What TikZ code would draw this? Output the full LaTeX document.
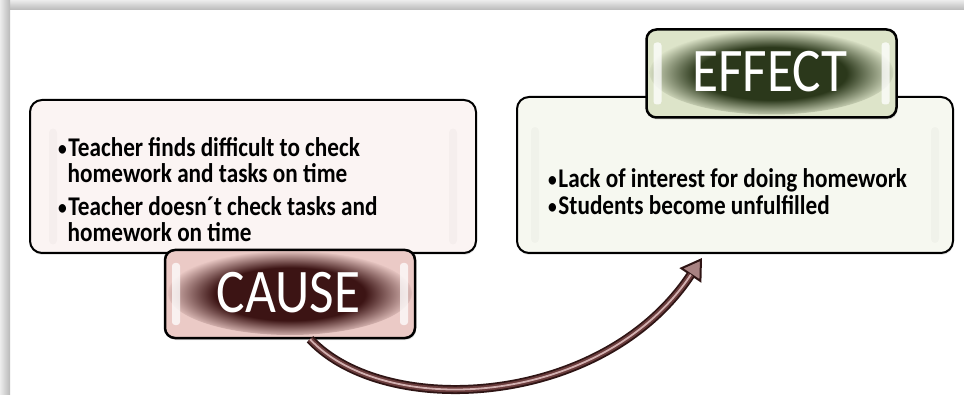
\documentclass[tikz,border=0pt]{standalone}
\usepackage{fontspec}
\setmainfont{Carlito}
\usetikzlibrary{arrows.meta,shadows}

\definecolor{causelight}{HTML}{EBCAC6}
\definecolor{causedark}{HTML}{3C1414}
\definecolor{efflight}{HTML}{DDE4C9}
\definecolor{effdark}{HTML}{2B381B}
\definecolor{causefill}{HTML}{FBF4F3}
\definecolor{efffill}{HTML}{F6F8F0}
\definecolor{arrowdark}{HTML}{2E1414}
\definecolor{arrowmid}{HTML}{6A3C3C}
\definecolor{arrowpink}{HTML}{D2B0B0}

% dark halo behind the big words, fading out towards the tag border
\pgfdeclareradialshading{causeglow}{\pgfpoint{0bp}{0bp}}{color(0bp)=(causedark); color(15bp)=(causedark); color(25bp)=(causelight); color(50bp)=(causelight)}
\pgfdeclareradialshading{effglow}{\pgfpoint{0bp}{0bp}}{color(0bp)=(effdark); color(15bp)=(effdark); color(25bp)=(efflight); color(50bp)=(efflight)}

\newcommand{\bul}{\makebox[12pt][l]{\raisebox{1pt}{\scalebox{0.75}{\textbullet}}}}
\newcommand{\ind}{\hspace*{11pt}}

\tikzset{
    panel/.style={draw=black, line width=2pt, rounded corners=12pt, inner sep=0pt,
        drop shadow={opacity=0.2, shadow xshift=0.5pt, shadow yshift=-2pt},
        path picture={
            \foreach \s in {1,-1} {
                \fill[black, opacity=0.025, rounded corners=4pt]
                    ([xshift=\s*(-200pt),yshift=-10pt]path picture bounding box.center) ++(-4pt,-58pt) rectangle ++(8pt,116pt);
            }
        }},
    tagbox/.style={draw=black, line width=2.5pt, rounded corners=10pt, inner sep=0pt,
        minimum width=250pt, minimum height=88pt,
        drop shadow={opacity=0.25, shadow xshift=1pt, shadow yshift=-2pt},
        path picture={
            \shade[shading=#1] ([yshift=1pt]path picture bounding box.center) ellipse (122pt and 42pt);
            \foreach \a/\s in {west/1, east/-1} {
                \fill[white, opacity=0.75, rounded corners=3pt]
                    ([xshift=\s*7pt,yshift=13pt]path picture bounding box.south \a) rectangle ++(\s*8pt,62pt);
            }
        }},
    bullets/.style={font=\bfseries\fontsize{27}{26.5}\selectfont, align=left, inner sep=0pt, xscale=0.86},
    tagword/.style={font=\fontsize{62}{62}\selectfont, text=white, inner sep=0pt, xscale=0.86},
}

\begin{document}
\begin{tikzpicture}[x=1pt,y=1pt]

    \useasboundingbox (0,0) rectangle (964,394);
    \fill[white] (0,0) rectangle (964,394);

    % grey rim along the top and the left
    \shade[top color=gray!15, bottom color=gray!55] (0,384) rectangle (964,394);
    \shade[left color=gray!15, right color=gray!55] (0,0) rectangle (10,394);

    % the two text panels
    \node[panel, fill=causefill, minimum width=446pt, minimum height=153pt] (causebox) at (253,217.5) {};
    \node[panel, fill=efffill, minimum width=436pt, minimum height=156pt] (effbox) at (735,219) {};

    \node[bullets, anchor=north west] (causetext) at (58,257) {%
        \bul Teacher finds difficult to check\\
        \ind homework and tasks on time\\[6pt]
        \bul Teacher doesn´t check tasks and\\
        \ind homework on time};

    \node[bullets, anchor=north west] (efftext) at (548,226) {%
        \bul Lack of interest for doing homework\\[0.5pt]
        \bul Students become unfulfilled};

    % the tags on the panels
    \node[tagbox=causeglow, fill=causelight] (causetag) at (290,100) {};
    \node[tagword, anchor=base] (causeword) at (288.5,82) {CAUSE};

    \node[tagbox=effglow, fill=efflight] (efftag) at (771.5,320.5) {};
    \node[tagword, anchor=base] (effword) at (770,302) {EFFECT};

    % curved arrow from cause to effect
    \coordinate (arrowstart) at ([xshift=20pt]causetag.south);
    \coordinate (arrowend) at ([xshift=-33pt,yshift=-4pt]effbox.south);

    \draw[arrowdark, line width=9pt, -{Triangle[length=21pt,width=26pt,fill=arrowpink!60!arrowmid,line width=2pt]}]
        (arrowstart) .. controls +(75,-80) and +(-100,-150) .. (arrowend);
    \draw[arrowmid, line width=5.5pt, shorten >=20pt]
        (arrowstart) .. controls +(75,-80) and +(-100,-150) .. (arrowend);
    \draw[arrowpink, line width=1.8pt, shorten >=20pt]
        (arrowstart) .. controls +(75,-80) and +(-100,-150) .. (arrowend);

\end{tikzpicture}
\end{document}
